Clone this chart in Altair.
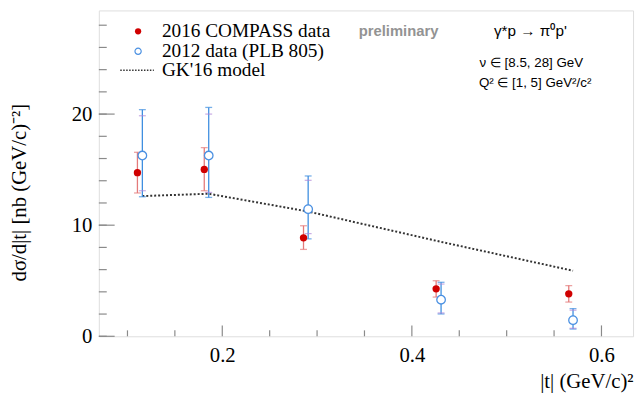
import altair as alt
import pandas as pd

SERIF = "Liberation Serif"
SANS = "Liberation Sans"

# 2016 COMPASS data
red_t = [0.1105, 0.181, 0.2857, 0.4256, 0.5655]
red_y = [14.73, 15.02, 8.86, 4.27, 3.82]
red_lo = [12.9, 13.1, 7.82, 3.53, 3.08]
red_hi = [16.56, 16.98, 9.95, 5.0, 4.56]

# 2012 data (PLB 805)
blue_t = [0.1157, 0.1857, 0.2906, 0.4308, 0.570]
blue_y = [16.27, 16.27, 11.44, 3.29, 1.45]
blue_lo = [12.56, 12.5, 8.77, 2.01, 0.65]
blue_hi = [20.4, 20.6, 14.43, 4.86, 2.49]
blue_ilo = [13.1, 12.95, 9.24, 2.1, 0.72]
blue_ihi = [19.85, 20.0, 14.04, 4.7, 2.35]

# GK'16 model
model_t = [0.1157, 0.1857, 0.2906, 0.4308, 0.570]
model_y = [12.62, 12.83, 11.23, 8.5, 5.9]

y_minor = [v for v in range(0, 30, 2)]
y_major = [0, 10, 20]
x_minor = [0.1, 0.15, 0.25, 0.3, 0.35, 0.45, 0.5, 0.55]
x_major = [0.2, 0.4, 0.6]

leg_labels = ["2016 COMPASS data", "2012 data (PLB 805)", "GK'16 model"]
leg_y = [27.45, 25.65, 23.95]
leg_sym_t = 0.1112
leg_text_t = 0.1363
leg_line_t = [0.0924, 0.1278]

ann_text = ["γ*p → π⁰p'", "ν ∈ [8.5, 28] GeV", "Q² ∈ [1, 5] GeV²/c²"]
ann_t = [0.525, 0.526, 0.530]
ann_y = [27.45, 24.55, 22.75]
ann_size = [15.5, 13.5, 13.5]

W, H = 541, 330
XDOM = [0.0698, 0.6333]
YDOM = [0, 29.33]


def X(field):
    return alt.X(field, type="quantitative",
                 scale=alt.Scale(domain=XDOM, nice=False, zero=False),
                 axis=alt.Axis(values=x_major, format=".1f", labelPadding=9,
                               title="|t| (GeV/c)²",
                               titleX=W, titleY=52, titleAlign="right",
                               titleBaseline="alphabetic"))


def Y(field):
    return alt.Y(field, type="quantitative",
                 scale=alt.Scale(domain=YDOM, nice=False, zero=True),
                 axis=alt.Axis(values=y_major, labelPadding=7,
                               title="dσ/d|t| [nb (GeV/c)⁻²]",
                               titleX=-80, titleY=184,
                               titleAlign="center", titleBaseline="middle",
                               titleAngle=270))


red = pd.DataFrame({"t": red_t, "y": red_y, "lo": red_lo, "hi": red_hi})
blue = pd.DataFrame({"t": blue_t, "y": blue_y, "lo": blue_lo, "hi": blue_hi,
                     "ilo": blue_ilo, "ihi": blue_ihi})
model = pd.DataFrame({"t": model_t, "y": model_y})

ymin_df = pd.DataFrame({"v": y_minor})
ymaj_df = pd.DataFrame({"v": y_major})
xmin_df = pd.DataFrame({"v": x_minor})
xmaj_df = pd.DataFrame({"v": x_major})

TICKC = "#8a8a8a"
layers = []
layers.append(alt.Chart(ymin_df).mark_rule(color=TICKC, strokeWidth=1.2).encode(
    y=Y("v"), x=alt.value(0), x2=alt.value(8)))
layers.append(alt.Chart(ymaj_df).mark_rule(color=TICKC, strokeWidth=1.2).encode(
    y=Y("v"), x=alt.value(0), x2=alt.value(16)))
layers.append(alt.Chart(xmin_df).mark_rule(color=TICKC, strokeWidth=1.2).encode(
    x=X("v"), y=alt.value(H), y2=alt.value(H - 6)))
layers.append(alt.Chart(xmaj_df).mark_rule(color=TICKC, strokeWidth=1.2).encode(
    x=X("v"), y=alt.value(H), y2=alt.value(H - 11)))

# model
layers.append(alt.Chart(model).mark_line(color="#333333", strokeWidth=2,
                                         strokeDash=[2, 2]).encode(x=X("t"), y=Y("y")))

RED_BAR = "#e47a7a"
BLUE_BAR = "#3f8fe0"
# red error bars
layers.append(alt.Chart(red).mark_rule(color=RED_BAR, strokeWidth=1.3).encode(
    x=X("t"), y=Y("lo"), y2="hi"))
for f in ["lo", "hi"]:
    layers.append(alt.Chart(red).mark_tick(color=RED_BAR, orient="horizontal",
                                           size=7, thickness=1.3).encode(x=X("t"), y=Y(f)))
# blue error bars
layers.append(alt.Chart(blue).mark_rule(color=BLUE_BAR, strokeWidth=1.3).encode(
    x=X("t"), y=Y("lo"), y2="hi"))
for f in ["lo", "hi"]:
    layers.append(alt.Chart(blue).mark_tick(color=BLUE_BAR, orient="horizontal",
                                            size=7, thickness=1.3).encode(x=X("t"), y=Y(f)))
for f in ["ilo", "ihi"]:
    layers.append(alt.Chart(blue).mark_tick(color="#b088d8", orient="horizontal",
                                            size=7, thickness=1.2).encode(x=X("t"), y=Y(f)))

# points
layers.append(alt.Chart(red).mark_circle(color="#d00000", size=55, opacity=1).encode(
    x=X("t"), y=Y("y")))
layers.append(alt.Chart(blue).mark_circle(fill="white", stroke="#4a90e2", strokeWidth=1.3,
                                          size=75, opacity=1).encode(x=X("t"), y=Y("y")))

# legend
leg_red = pd.DataFrame({"t": [leg_sym_t], "y": [leg_y[0]]})
leg_blue = pd.DataFrame({"t": [leg_sym_t], "y": [leg_y[1]]})
leg_line = pd.DataFrame({"t": leg_line_t, "y": [leg_y[2], leg_y[2]]})
leg_txt = pd.DataFrame({"t": [leg_text_t] * 3, "y": leg_y, "label": leg_labels})
layers.append(alt.Chart(leg_red).mark_circle(color="#d00000", size=40, opacity=1).encode(
    x=X("t"), y=Y("y")))
layers.append(alt.Chart(leg_blue).mark_circle(fill="white", stroke="#4a90e2", strokeWidth=1.2,
                                              size=40, opacity=1).encode(x=X("t"), y=Y("y")))
layers.append(alt.Chart(leg_line).mark_line(color="#333333", strokeWidth=1.5,
                                            strokeDash=[1.5, 1.5]).encode(x=X("t"), y=Y("y")))
layers.append(alt.Chart(leg_txt).mark_text(font=SERIF, fontSize=19.5, align="left",
                                           baseline="middle", color="black").encode(
    x=X("t"), y=Y("y"), text="label:N"))

# annotations
prelim = pd.DataFrame({"t": [0.386], "y": [27.45], "label": ["preliminary"]})
layers.append(alt.Chart(prelim).mark_text(font=SANS, fontSize=15, fontWeight="bold",
                                          color="#939393", align="center",
                                          baseline="middle").encode(
    x=X("t"), y=Y("y"), text="label:N"))
ann = pd.DataFrame({"t": ann_t, "y": ann_y, "label": ann_text, "s": ann_size})
layers.append(alt.Chart(ann).mark_text(font=SANS, color="black", align="center",
                                       baseline="middle").encode(
    x=X("t"), y=Y("y"), text="label:N",
    size=alt.Size("s:Q", scale=None, legend=None)))

chart = alt.layer(*layers).properties(
    width=W, height=H,
    autosize=alt.AutoSizeParams(type="none"),
    padding={"left": 92, "top": 0, "right": 3, "bottom": 57},
).configure_view(stroke="#888888", strokeWidth=1.5).configure(
    background="white"
).configure_axis(
    ticks=False, domain=False, grid=False,
    labelFont=SERIF, labelFontSize=21, labelColor="black",
    titleFont=SERIF, titleFontSize=21, titleFontWeight="normal", titleColor="black",
)

chart.save("out.html", embed_options={"renderer": "svg", "actions": False})
